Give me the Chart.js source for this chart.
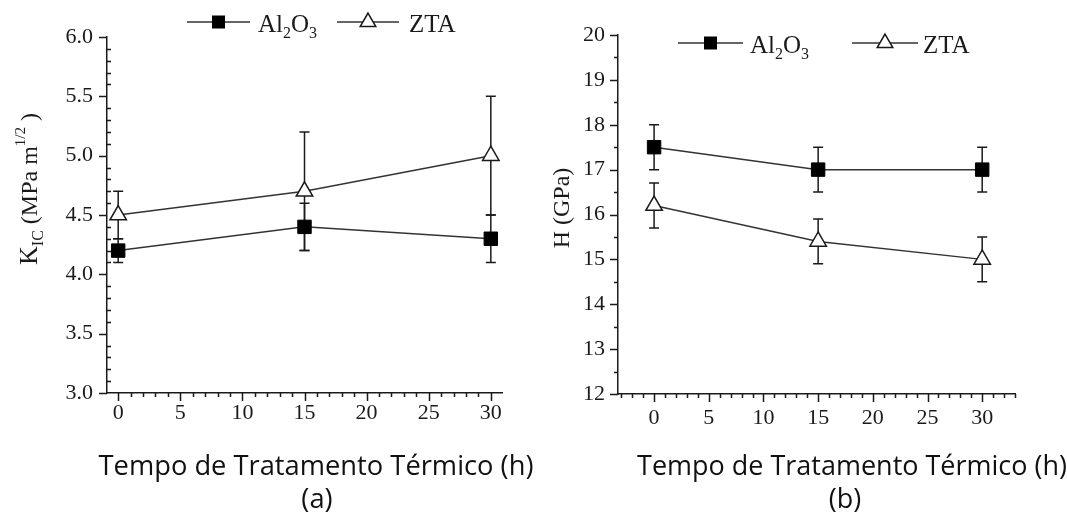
<!DOCTYPE html>
<html>
<head>
<meta charset="utf-8">
<script src="https://cdn.jsdelivr.net/npm/chart.js@4/dist/chart.umd.min.js"></script>
<style>
  html, body { margin: 0; padding: 0; background: #fff; }
  #wrap { position: relative; width: 1067px; height: 519px; overflow: hidden; }
  .panel { position: absolute; top: 0; height: 519px; }
</style>
</head>
<body>
<div id="wrap">
  <div class="panel" style="left:0;width:533px"><canvas id="cA" width="533" height="519"></canvas></div>
  <div class="panel" style="left:533px;width:534px"><canvas id="cB" width="534" height="519"></canvas></div>
</div>
<script>
// Heat-treatment time (h)
const horas = [0, 15, 30];

// (a) fracture toughness K_IC (MPa m^1/2) with error bars
const kicAl2O3 = [4.2, 4.4, 4.3];
const kicAl2O3Err = [0.1, 0.2, 0.2];
const kicZTA = [4.5, 4.7, 5.0];
const kicZTAErr = [0.2, 0.5, 0.5];

// (b) hardness H (GPa) with error bars
const durezaAl2O3 = [17.5, 17.0, 17.0];
const durezaAl2O3Err = [0.5, 0.5, 0.5];
const durezaZTA = [16.2, 15.4, 15.0];
const durezaZTAErr = [0.5, 0.5, 0.5];

const xTitulo = 'Tempo de Tratamento Térmico (h)';
const rotulosPainel = ['(a)', '(b)'];

const INK = '#1a1a1a';
const LINE = '#333';
const SERIF = "'Liberation Serif', 'DejaVu Serif', serif";
const SANS = "'Open Sans', 'Noto Sans', sans-serif";

Chart.defaults.font.family = SERIF;
Chart.defaults.font.size = 22;
Chart.defaults.color = INK;

function pts(xs, ys) { return xs.map((x, i) => ({ x: x, y: ys[i] })); }

// Draws a run of text pieces (sub/superscripts via size and baseline shift)
function drawRuns(ctx, runs, x, y, align) {
  let total = 0;
  runs.forEach(r => { ctx.font = r.s + 'px ' + SERIF; r.w = ctx.measureText(r.t).width; total += r.w; });
  let cx = align === 'center' ? x - total / 2 : x;
  ctx.textAlign = 'left';
  ctx.textBaseline = 'alphabetic';
  runs.forEach(r => {
    ctx.font = r.s + 'px ' + SERIF;
    ctx.fillText(r.t, cx, y + (r.dy || 0));
    cx += r.w;
  });
}

function drawMarker(ctx, kind, x, y) {
  ctx.save();
  if (kind === 'rect') {
    ctx.fillStyle = '#000';
    ctx.fillRect(x - 6.5, y - 6.5, 13, 13);
  } else {
    const r = 9;
    ctx.beginPath();
    ctx.moveTo(x, y - r);
    ctx.lineTo(x + r * Math.sin(2 * Math.PI / 3), y - r * Math.cos(2 * Math.PI / 3));
    ctx.lineTo(x + r * Math.sin(4 * Math.PI / 3), y - r * Math.cos(4 * Math.PI / 3));
    ctx.closePath();
    ctx.fillStyle = '#fff';
    ctx.fill();
    ctx.lineWidth = 1.5;
    ctx.strokeStyle = INK;
    ctx.stroke();
  }
  ctx.restore();
}

const painelPlugin = {
  id: 'painel',
  beforeDatasetsDraw(chart, args, o) {
    const ctx = chart.ctx, ys = chart.scales.y;
    ctx.save();
    ctx.strokeStyle = INK;
    ctx.lineWidth = 1.5;
    o.erros.forEach((errs, i) => {
      const meta = chart.getDatasetMeta(i);
      const vals = chart.data.datasets[i].data;
      meta.data.forEach((el, j) => {
        const v = vals[j].y, e = errs[j];
        const yt = ys.getPixelForValue(v + e), yb = ys.getPixelForValue(v - e);
        const x = el.x;
        ctx.beginPath();
        ctx.moveTo(x, yt); ctx.lineTo(x, yb);
        ctx.moveTo(x - 5, yt); ctx.lineTo(x + 5, yt);
        ctx.moveTo(x - 5, yb); ctx.lineTo(x + 5, yb);
        ctx.stroke();
      });
    });
    ctx.restore();
  },
  afterDraw(chart, args, o) {
    const ctx = chart.ctx, xs = chart.scales.x, ys = chart.scales.y;
    const area = chart.chartArea;
    ctx.save();
    ctx.strokeStyle = INK;
    ctx.lineWidth = 1.5;
    // x ticks: every 1 h, major every 5 h
    ctx.beginPath();
    for (let v = Math.ceil(xs.min); v <= Math.floor(xs.max); v++) {
      const px = Math.round(xs.getPixelForValue(v)) + 0.5;
      const len = v % 5 === 0 ? 8 : 4;
      ctx.moveTo(px, area.bottom);
      ctx.lineTo(px, area.bottom + len);
    }
    // y ticks
    const n = Math.round((ys.max - ys.min) / o.yMenor);
    for (let k = 0; k <= n; k++) {
      const v = ys.min + k * o.yMenor;
      const q = v / o.yMaior;
      const major = Math.abs(q - Math.round(q)) < 1e-6;
      const py = Math.round(ys.getPixelForValue(v)) + 0.5;
      if (major) {
        ctx.moveTo(area.left - 8, py); ctx.lineTo(area.left, py);
      } else {
        ctx.moveTo(area.left, py); ctx.lineTo(area.left + o.menorDir * 4, py);
      }
    }
    ctx.stroke();

    // legend
    o.legenda.forEach(it => {
      ctx.beginPath();
      ctx.strokeStyle = LINE;
      ctx.lineWidth = 1.5;
      ctx.moveTo(it.x1, it.y); ctx.lineTo(it.x2, it.y);
      ctx.stroke();
      drawMarker(ctx, it.marker, (it.x1 + it.x2) / 2, it.y);
      ctx.fillStyle = INK;
      drawRuns(ctx, it.runs, it.tx, it.y + 10, 'left');
    });

    // y-axis title (rotated)
    ctx.save();
    ctx.translate(o.yTitulo.x, o.yTitulo.y);
    ctx.rotate(-Math.PI / 2);
    ctx.fillStyle = INK;
    drawRuns(ctx, o.yTitulo.runs, 0, 0, 'center');
    ctx.restore();

    // x-axis title and panel label
    ctx.fillStyle = '#111';
    ctx.textAlign = 'center';
    ctx.textBaseline = 'alphabetic';
    ctx.font = '26px ' + SANS;
    const w = ctx.measureText(xTitulo).width;
    const size = 26 * o.xTitulo.w / w;
    ctx.font = size.toFixed(2) + 'px ' + SANS;
    ctx.fillText(xTitulo, o.xTitulo.x, o.xTitulo.y);
    ctx.fillText(o.rotulo.t, o.rotulo.x, o.rotulo.y);
    ctx.restore();
  }
};

function serie(label, xs, ysv, kind) {
  const filled = kind === 'rect';
  return {
    label: label,
    data: pts(xs, ysv),
    borderColor: LINE,
    borderWidth: 1.5,
    tension: 0,
    pointStyle: filled ? 'rect' : 'triangle',
    pointRadius: 9.5,
    pointBackgroundColor: filled ? '#000' : '#fff',
    pointBorderColor: filled ? '#000' : INK,
    pointBorderWidth: filled ? 1 : 1.5,
    clip: false
  };
}

function makeChart(id, cfg) {
  const tickFont = { family: SERIF, size: 22, style: 'normal', weight: 'normal' };
  return new Chart(document.getElementById(id), {
    type: 'line',
    data: {
      datasets: [
        serie('Al2O3', horas, cfg.al, 'rect'),
        serie('ZTA', horas, cfg.zta, 'tri')
      ]
    },
    options: {
      responsive: false,
      devicePixelRatio: 1,
      animation: false,
      events: [],
      layout: { padding: { left: 0, top: cfg.top, right: cfg.right, bottom: 0 } },
      scales: {
        x: {
          type: 'linear',
          min: cfg.xmin, max: cfg.xmax,
          grid: { display: false, drawTicks: false },
          border: { display: true, color: INK, width: 1.5 },
          ticks: {
            stepSize: 5, includeBounds: false, padding: cfg.xPad,
            color: INK, font: tickFont,
            maxRotation: 0, autoSkip: false
          },
          afterFit: s => { s.height = cfg.xH; }
        },
        y: {
          type: 'linear',
          min: cfg.ymin, max: cfg.ymax,
          grid: { display: false, drawTicks: false },
          border: { display: true, color: INK, width: 1.5 },
          ticks: {
            stepSize: cfg.yStep, padding: cfg.yPad,
            color: INK, font: tickFont,
            callback: v => cfg.yFmt(v)
          },
          afterFit: s => { s.width = cfg.yW; }
        }
      },
      plugins: {
        legend: { display: false },
        tooltip: { enabled: false },
        painel: cfg.painel
      }
    },
    plugins: [painelPlugin]
  });
}

const runsAl = [{ t: 'Al', s: 25 }, { t: '2', s: 16, dy: 6 }, { t: 'O', s: 25 }, { t: '3', s: 16, dy: 6 }];
const runsZTA = [{ t: 'ZTA', s: 25 }];

makeChart('cA', {
  al: kicAl2O3, zta: kicZTA,
  xmin: -0.9, xmax: 30.9, ymin: 3.0, ymax: 6.0, yStep: 0.5,
  yFmt: v => v.toFixed(1),
  top: 37, right: 31, xH: 126, yW: 107, xPad: 7, yPad: 14,
  painel: {
    erros: [kicAl2O3Err, kicZTAErr],
    yMenor: 0.1, yMaior: 0.5, menorDir: 1,
    legenda: [
      { x1: 187, x2: 250, y: 22, marker: 'rect', tx: 258, runs: runsAl },
      { x1: 337, x2: 399, y: 22, marker: 'tri', tx: 409, runs: runsZTA }
    ],
    yTitulo: {
      x: 37, y: 189,
      runs: [{ t: 'K', s: 26 }, { t: 'IC', s: 16, dy: 6 }, { t: ' (MPa m', s: 24 },
             { t: '1/2', s: 15, dy: -12 }, { t: ' )', s: 24 }]
    },
    xTitulo: { x: 316, y: 475, w: 435 },
    rotulo: { t: rotulosPainel[0], x: 317, y: 508 }
  }
});

makeChart('cB', {
  al: durezaAl2O3, zta: durezaZTA,
  xmin: -3.3, xmax: 33.0, ymin: 12, ymax: 20, yStep: 1,
  yFmt: v => String(Math.round(v)),
  top: 35, right: 52, xH: 125, yW: 85, xPad: 11, yPad: 13,
  painel: {
    erros: [durezaAl2O3Err, durezaZTAErr],
    yMenor: 0.5, yMaior: 1, menorDir: -1,
    legenda: [
      { x1: 145, x2: 210, y: 43, marker: 'rect', tx: 217, runs: runsAl },
      { x1: 319, x2: 385, y: 43, marker: 'tri', tx: 390, runs: runsZTA }
    ],
    yTitulo: {
      x: 36, y: 208,
      runs: [{ t: 'H (GPa)', s: 24 }]
    },
    xTitulo: { x: 319, y: 475, w: 430 },
    rotulo: { t: rotulosPainel[1], x: 312, y: 508 }
  }
});
</script>
</body>
</html>
